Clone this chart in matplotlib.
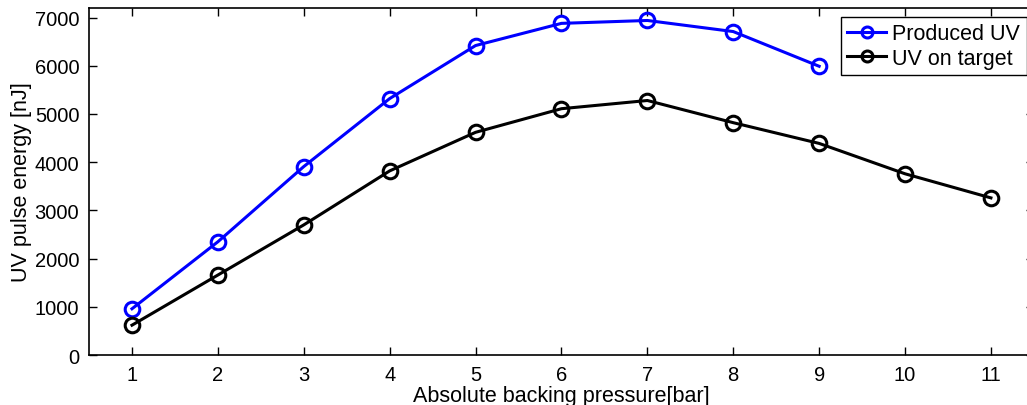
import matplotlib.pyplot as plt

# backing pressure [bar] and measured UV pulse energies [nJ]
presion_producido = [1, 2, 3, 4, 5, 6, 7, 8, 9]
uv_producido = [960, 2350, 3910, 5320, 6420, 6880, 6940, 6710, 5990]

presion_objetivo = [1, 2, 3, 4, 5, 6, 7, 8, 9, 10, 11]
uv_objetivo = [620, 1660, 2700, 3820, 4620, 5110, 5280, 4820, 4390, 3760, 3260]

xticks = [1, 2, 3, 4, 5, 6, 7, 8, 9, 10, 11]
yticks = [0, 1000, 2000, 3000, 4000, 5000, 6000, 7000]

plt.rcParams['font.family'] = ['Liberation Sans', 'DejaVu Sans']
plt.rcParams['font.size'] = 15

fig = plt.figure(figsize=(10.27, 4.06), dpi=100)
ax = fig.add_axes([0.0867, 0.123, 0.92, 0.855])

ax.plot(presion_producido, uv_producido, 'o-', color='#0000ff', lw=2.2,
        ms=10.5, mew=2.2, mfc='none', label="Produced UV")
ax.plot(presion_objetivo, uv_objetivo, 'o-', color='black', lw=2.2,
        ms=10.5, mew=2.2, mfc='none', label="UV on target")

ax.set_xlim(0.5, 11.5)
ax.set_ylim(0, 7200)
ax.set_xticks(xticks)
ax.set_yticks(yticks)
ax.tick_params(direction='in', length=6, width=1, top=True, right=True,
               pad=7, labelsize=14.5)
for s in ax.spines.values():
    s.set_linewidth(1.2)

ax.set_xlabel("Absolute backing pressure[bar]", fontsize=15.5, labelpad=1)
ax.set_ylabel("UV pulse energy [nJ]", fontsize=15.5, labelpad=2)

leg = ax.legend(loc='upper right', bbox_to_anchor=(0.9925, 0.975), fancybox=False,
                framealpha=1, edgecolor='black', borderpad=0.3, handlelength=1.8,
                handletextpad=0.3, labelspacing=0.18, borderaxespad=0,
                markerscale=0.75, fontsize=15.5)
leg.get_frame().set_linewidth(1)

plt.savefig("out.png", dpi=100)
